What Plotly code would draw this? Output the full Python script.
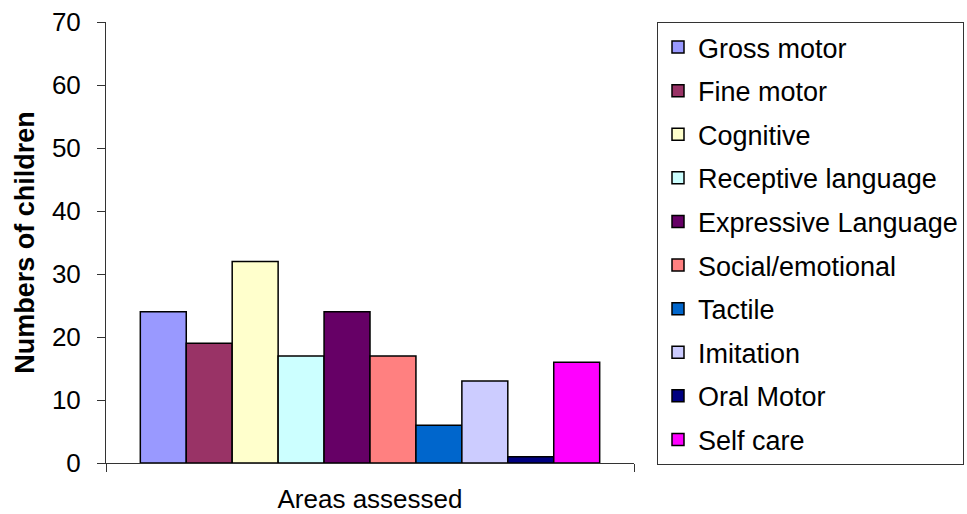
import plotly.graph_objects as go

category = ["Areas assessed"]
series_names = ["Gross motor", "Fine motor", "Cognitive", "Receptive language",
                "Expressive Language", "Social/emotional", "Tactile", "Imitation",
                "Oral Motor", "Self care"]
series_values = [24, 19, 32, 17, 24, 17, 6, 13, 1, 16]
series_colors = ["#9999FF", "#993366", "#FFFFCC", "#CCFFFF", "#660066",
                 "#FF8080", "#0066CC", "#CCCCFF", "#000080", "#FF00FF"]
y_ticks = [0, 10, 20, 30, 40, 50, 60, 70]

FONT = "Liberation Sans, Arial, sans-serif"

fig = go.Figure()
for name, val, col in zip(series_names, series_values, series_colors):
    fig.add_trace(go.Bar(
        x=category, y=[val], name=name, legendgroup=name,
        marker=dict(color=col, line=dict(color="#000000", width=1.5)),
    ))

fig.update_layout(
    width=967, height=514,
    margin=dict(l=106, r=333, t=22, b=51),
    paper_bgcolor="white", plot_bgcolor="white",
    barmode="group", bargap=0.13, bargroupgap=0,
    font=dict(family=FONT, size=26, color="#000000"),
    showlegend=True,
    legend=dict(
        xref="container", yref="container",
        x=657 / 967, xanchor="left", y=1 - 22 / 514, yanchor="top",
        bgcolor="white", bordercolor="#333333", borderwidth=1,
        font=dict(family=FONT, size=27, color="#000000"),
        traceorder="grouped", tracegroupgap=5.5,
        maxheight=500,
        itemclick=False,
    ),
    xaxis=dict(
        type="category", showticklabels=False,
        ticks="outside", tickson="boundaries", ticklen=8, tickcolor="#333333",
        showline=True, linecolor="#333333", linewidth=1,
        showgrid=False, zeroline=False, automargin=False,
        title=dict(text=category[0], font=dict(family=FONT, size=26), standoff=40),
    ),
    yaxis=dict(
        range=[0, 70], tickvals=y_ticks, ticktext=[str(t) for t in y_ticks],
        ticks="outside", ticklen=8, tickcolor="#333333", ticklabelstandoff=11,
        showline=True, linecolor="#333333", linewidth=1,
        showgrid=False, zeroline=False, automargin=False,
        tickfont=dict(family=FONT, size=26),
        title=dict(text="<b>Numbers of children</b>", font=dict(family=FONT, size=27), standoff=9),
    ),
)

fig.write_html("out.html")
